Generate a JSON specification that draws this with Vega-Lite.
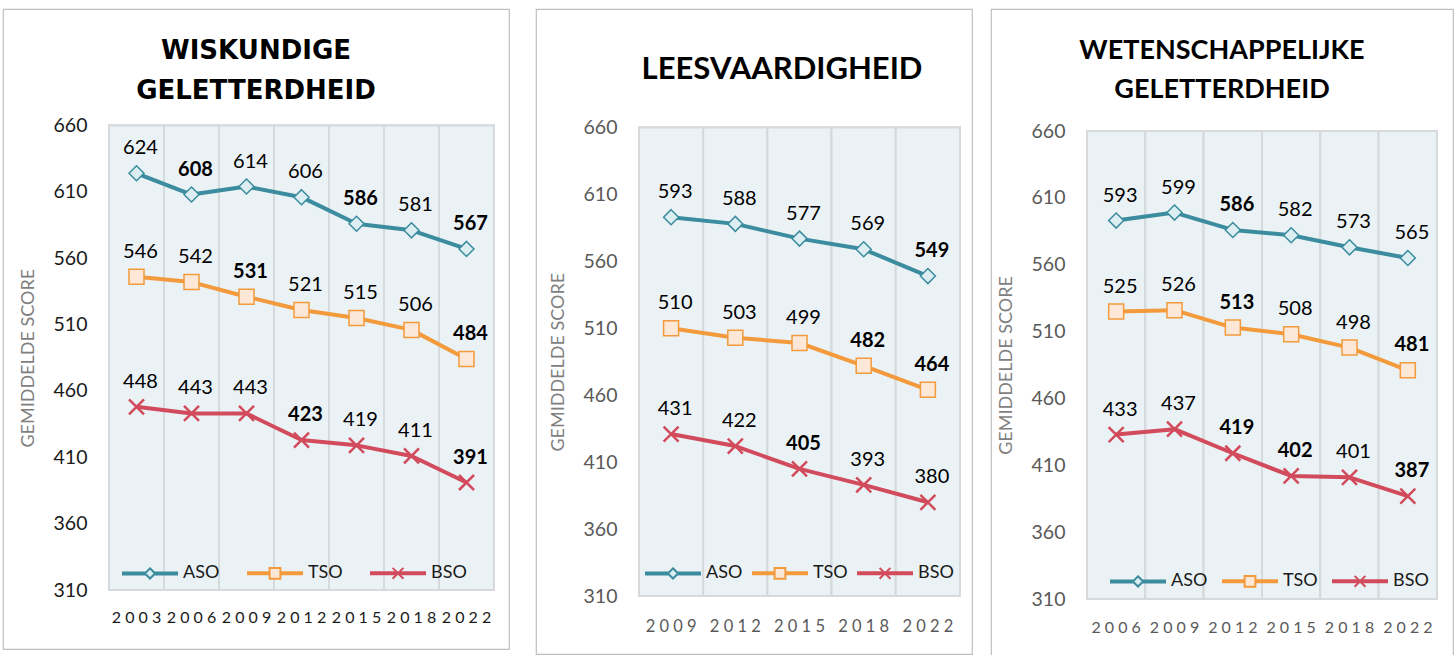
{
  "$schema": "https://vega.github.io/schema/vega-lite/v6.json",
  "padding": {"left": 2, "top": 8, "right": 0, "bottom": 0},
  "background": "white",
  "config": {
    "font": "Lato",
    "view": {"stroke": "#BFBFBF", "strokeWidth": 1.2},
    "concat": {"spacing": 25}
  },
  "datasets": {
    "wisk": [
      {"year": "2003", "series": "ASO", "score": 624, "sig": false},
      {"year": "2003", "series": "TSO", "score": 546, "sig": false},
      {"year": "2003", "series": "BSO", "score": 448, "sig": false},
      {"year": "2006", "series": "ASO", "score": 608, "sig": true},
      {"year": "2006", "series": "TSO", "score": 542, "sig": false},
      {"year": "2006", "series": "BSO", "score": 443, "sig": false},
      {"year": "2009", "series": "ASO", "score": 614, "sig": false},
      {"year": "2009", "series": "TSO", "score": 531, "sig": true},
      {"year": "2009", "series": "BSO", "score": 443, "sig": false},
      {"year": "2012", "series": "ASO", "score": 606, "sig": false},
      {"year": "2012", "series": "TSO", "score": 521, "sig": false},
      {"year": "2012", "series": "BSO", "score": 423, "sig": true},
      {"year": "2015", "series": "ASO", "score": 586, "sig": true},
      {"year": "2015", "series": "TSO", "score": 515, "sig": false},
      {"year": "2015", "series": "BSO", "score": 419, "sig": false},
      {"year": "2018", "series": "ASO", "score": 581, "sig": false},
      {"year": "2018", "series": "TSO", "score": 506, "sig": false},
      {"year": "2018", "series": "BSO", "score": 411, "sig": false},
      {"year": "2022", "series": "ASO", "score": 567, "sig": true},
      {"year": "2022", "series": "TSO", "score": 484, "sig": true},
      {"year": "2022", "series": "BSO", "score": 391, "sig": true}
    ],
    "lees": [
      {"year": "2009", "series": "ASO", "score": 593, "sig": false},
      {"year": "2009", "series": "TSO", "score": 510, "sig": false},
      {"year": "2009", "series": "BSO", "score": 431, "sig": false},
      {"year": "2012", "series": "ASO", "score": 588, "sig": false},
      {"year": "2012", "series": "TSO", "score": 503, "sig": false},
      {"year": "2012", "series": "BSO", "score": 422, "sig": false},
      {"year": "2015", "series": "ASO", "score": 577, "sig": false},
      {"year": "2015", "series": "TSO", "score": 499, "sig": false},
      {"year": "2015", "series": "BSO", "score": 405, "sig": true},
      {"year": "2018", "series": "ASO", "score": 569, "sig": false},
      {"year": "2018", "series": "TSO", "score": 482, "sig": true},
      {"year": "2018", "series": "BSO", "score": 393, "sig": false},
      {"year": "2022", "series": "ASO", "score": 549, "sig": true},
      {"year": "2022", "series": "TSO", "score": 464, "sig": true},
      {"year": "2022", "series": "BSO", "score": 380, "sig": false}
    ],
    "wet": [
      {"year": "2006", "series": "ASO", "score": 593, "sig": false},
      {"year": "2006", "series": "TSO", "score": 525, "sig": false},
      {"year": "2006", "series": "BSO", "score": 433, "sig": false},
      {"year": "2009", "series": "ASO", "score": 599, "sig": false},
      {"year": "2009", "series": "TSO", "score": 526, "sig": false},
      {"year": "2009", "series": "BSO", "score": 437, "sig": false},
      {"year": "2012", "series": "ASO", "score": 586, "sig": true},
      {"year": "2012", "series": "TSO", "score": 513, "sig": true},
      {"year": "2012", "series": "BSO", "score": 419, "sig": true},
      {"year": "2015", "series": "ASO", "score": 582, "sig": false},
      {"year": "2015", "series": "TSO", "score": 508, "sig": false},
      {"year": "2015", "series": "BSO", "score": 402, "sig": true},
      {"year": "2018", "series": "ASO", "score": 573, "sig": false},
      {"year": "2018", "series": "TSO", "score": 498, "sig": false},
      {"year": "2018", "series": "BSO", "score": 401, "sig": false},
      {"year": "2022", "series": "ASO", "score": 565, "sig": false},
      {"year": "2022", "series": "TSO", "score": 481, "sig": true},
      {"year": "2022", "series": "BSO", "score": 387, "sig": true}
    ]
  },
  "resolve": {"scale": {"color": "independent", "stroke": "independent", "shape": "independent"}},
  "hconcat": [
    {
      "width": 506, "height": 640,
      "data": {"name": "wisk"},
      "title": {"text": ["WISKUNDIGE", "GELETTERDHEID"], "font": "DejaVu Sans", "fontSize": 26, "fontWeight": "bold", "color": "#000000", "anchor": "middle", "frame": "group", "offset": -95, "lineHeight": 40},
      "encoding": {
        "x": {"field": "year", "type": "ordinal", "scale": {"range": [106, 491], "paddingInner": 0, "paddingOuter": 0},
          "axis": {"title": null, "orient": "bottom", "offset": -59, "labelAngle": 0, "labelExpr": "join(split(datum.label, ''), ' ')", "labelFont": "Lato", "labelFontSize": 16, "labelColor": "#1a1a1a", "labelPadding": 19, "ticks": false, "domain": false, "grid": false}},
        "y": {"field": "score", "type": "quantitative", "scale": {"domain": [310, 660], "range": [581, 116.5], "nice": false, "zero": false},
          "axis": {"title": "GEMIDDELDE SCORE", "orient": "left", "offset": -106, "values": [310, 360, 410, 460, 510, 560, 610, 660], "ticks": false, "domain": false, "grid": false, "labelFont": "Lato", "labelFontSize": 19.5, "labelColor": "#1a1a1a", "labelPadding": 22, "titleFont": "Lato", "titleFontSize": 18, "titleFontWeight": "normal", "titleColor": "#7f7f7f", "titlePadding": 16}}
      },
      "layer": [
        {"mark": {"type": "rect", "fill": "#EBF2F5", "stroke": "#D6DADC", "strokeWidth": 2},
         "encoding": {"y": {"datum": 660, "type": "quantitative",
           "axis": {"title": "GEMIDDELDE SCORE", "orient": "left", "offset": -106, "values": [310, 360, 410, 460, 510, 560, 610, 660], "ticks": false, "domain": false, "grid": false, "labelFont": "Lato", "labelFontSize": 19.5, "labelColor": "#1a1a1a", "labelPadding": 22, "titleFont": "Lato", "titleFontSize": 18, "titleFontWeight": "normal", "titleColor": "#7f7f7f", "titlePadding": 16}},
           "y2": {"datum": 310}}},
        {"mark": {"type": "line", "strokeWidth": 4, "strokeJoin": "round"},
         "encoding": {"stroke": {"field": "series", "type": "nominal", "sort": ["ASO", "TSO", "BSO"], "scale": {"range": ["#3A8C9E", "#F29A3C", "#D24B5C"]}, "legend": null}}},
        {"mark": {"type": "point", "filled": false, "opacity": 1, "size": 225},
         "encoding": {
           "stroke": {"field": "series", "type": "nominal", "sort": ["ASO", "TSO", "BSO"], "scale": {"range": ["#3A8C9E", "#F29A3C", "#D24B5C"]}, "legend": null},
           "strokeWidth": {"condition": {"test": "datum.series === 'BSO'", "value": 2.5}, "value": 1.5},
           "fill": {"condition": [{"test": "datum.series === 'ASO'", "value": "#DDEEF2"}, {"test": "datum.series === 'TSO'", "value": "#FDE7D6"}], "value": "transparent"},
           "shape": {"condition": [{"test": "datum.series === 'ASO'", "value": "M0,-1L1,0L0,1L-1,0Z"}, {"test": "datum.series === 'TSO'", "value": "square"}], "value": "M-1,-1L1,1M-1,1L1,-1"}
         }},
        {"transform": [{"filter": "false"}],
         "mark": {"type": "point", "filled": false, "opacity": 1},
         "encoding": {
           "color": {"field": "series", "type": "nominal", "scale": {"domain": ["ASO", "TSO", "BSO"], "range": ["#3A8C9E", "#F29A3C", "#D24B5C"]},
             "legend": {"orient": "none", "legendX": 119, "legendY": 536, "direction": "horizontal", "title": null, "symbolSize": 2916, "symbolStrokeWidth": 2, "symbolOpacity": 1, "labelFont": "Lato", "labelFontSize": 18, "labelColor": "#1a1a1a", "labelOffset": 5, "columnPadding": 24, "padding": 0,
               "encoding": {"symbols": {"fill": {"value": {"expr": "datum.value === 'ASO' ? '#DDEEF2' : datum.value === 'TSO' ? '#FDE7D6' : 'transparent'"}}}}}},
           "shape": {"field": "series", "type": "nominal", "scale": {"domain": ["ASO", "TSO", "BSO"], "range": ["M-1,-0.037L-0.19,-0.037L-0.19,0.037L-1,0.037ZM0.19,-0.037L1,-0.037L1,0.037L0.19,0.037ZM0,-0.19L0.19,0L0,0.19L-0.19,0Z", "M-1,-0.037L-0.2,-0.037L-0.2,0.037L-1,0.037ZM0.2,-0.037L1,-0.037L1,0.037L0.2,0.037ZM-0.2,-0.2L0.2,-0.2L0.2,0.2L-0.2,0.2Z", "M-1,-0.037L1,-0.037L1,0.037L-1,0.037ZM-0.2,-0.2L0.2,0.2M-0.2,0.2L0.2,-0.2"]},
             "legend": {"orient": "none", "legendX": 119, "legendY": 536, "direction": "horizontal", "title": null, "symbolSize": 2916, "symbolStrokeWidth": 2, "symbolOpacity": 1, "labelFont": "Lato", "labelFontSize": 18, "labelColor": "#1a1a1a", "labelOffset": 5, "columnPadding": 24, "padding": 0,
               "encoding": {"symbols": {"fill": {"value": {"expr": "datum.value === 'ASO' ? '#DDEEF2' : datum.value === 'TSO' ? '#FDE7D6' : 'transparent'"}}}}}}
         }},
        {"transform": [{"filter": "!datum.sig"}],
         "mark": {"type": "text", "font": "Lato", "fontSize": 20, "fontWeight": "normal", "color": "#000000", "dx": 4, "dy": -25},
         "encoding": {"text": {"field": "score", "type": "quantitative"}}},
        {"transform": [{"filter": "datum.sig"}],
         "mark": {"type": "text", "font": "Lato", "fontSize": 20, "fontWeight": "bold", "color": "#000000", "dx": 4, "dy": -25},
         "encoding": {"text": {"field": "score", "type": "quantitative"}}}
      ]
    },
    {
      "spacing": 17,
      "resolve": {"scale": {"color": "independent", "stroke": "independent", "shape": "independent"}},
      "hconcat": [
        {
          "width": 436, "height": 645,
          "data": {"name": "lees"},
          "title": {"text": "LEESVAARDIGHEID", "font": "Lato", "fontSize": 31, "fontWeight": "bold", "color": "#000000", "anchor": "middle", "frame": "group", "offset": -77, "dx": 28},
          "encoding": {
            "x": {"field": "year", "type": "ordinal", "scale": {"range": [103, 424], "paddingInner": 0, "paddingOuter": 0},
              "axis": {"title": null, "orient": "bottom", "offset": -58, "labelAngle": 0, "labelExpr": "join(split(datum.label, ''), ' ')", "labelFont": "Lato", "labelFontSize": 16.5, "labelColor": "#595959", "labelPadding": 22, "ticks": false, "domain": false, "grid": false}},
            "y": {"field": "score", "type": "quantitative", "scale": {"domain": [310, 660], "range": [587, 118.5], "nice": false, "zero": false},
              "axis": {"title": "GEMIDDELDE SCORE", "orient": "left", "offset": -103, "values": [310, 360, 410, 460, 510, 560, 610, 660], "ticks": false, "domain": false, "grid": false, "labelFont": "Lato", "labelFontSize": 19.5, "labelColor": "#595959", "labelPadding": 22, "titleFont": "Lato", "titleFontSize": 18, "titleFontWeight": "normal", "titleColor": "#7f7f7f", "titlePadding": 16}}
          },
          "layer": [
            {"mark": {"type": "rect", "fill": "#EBF2F5", "stroke": "#D6DADC", "strokeWidth": 2},
             "encoding": {"y": {"datum": 660, "type": "quantitative",
               "axis": {"title": "GEMIDDELDE SCORE", "orient": "left", "offset": -103, "values": [310, 360, 410, 460, 510, 560, 610, 660], "ticks": false, "domain": false, "grid": false, "labelFont": "Lato", "labelFontSize": 19.5, "labelColor": "#595959", "labelPadding": 22, "titleFont": "Lato", "titleFontSize": 18, "titleFontWeight": "normal", "titleColor": "#7f7f7f", "titlePadding": 16}},
               "y2": {"datum": 310}}},
            {"mark": {"type": "line", "strokeWidth": 4, "strokeJoin": "round"},
             "encoding": {"stroke": {"field": "series", "type": "nominal", "sort": ["ASO", "TSO", "BSO"], "scale": {"range": ["#3A8C9E", "#F29A3C", "#D24B5C"]}, "legend": null}}},
            {"mark": {"type": "point", "filled": false, "opacity": 1, "size": 225},
             "encoding": {
               "stroke": {"field": "series", "type": "nominal", "sort": ["ASO", "TSO", "BSO"], "scale": {"range": ["#3A8C9E", "#F29A3C", "#D24B5C"]}, "legend": null},
               "strokeWidth": {"condition": {"test": "datum.series === 'BSO'", "value": 2.5}, "value": 1.5},
               "fill": {"condition": [{"test": "datum.series === 'ASO'", "value": "#DDEEF2"}, {"test": "datum.series === 'TSO'", "value": "#FDE7D6"}], "value": "transparent"},
               "shape": {"condition": [{"test": "datum.series === 'ASO'", "value": "M0,-1L1,0L0,1L-1,0Z"}, {"test": "datum.series === 'TSO'", "value": "square"}], "value": "M-1,-1L1,1M-1,1L1,-1"}
             }},
            {"transform": [{"filter": "false"}],
             "mark": {"type": "point", "filled": false, "opacity": 1},
             "encoding": {
               "color": {"field": "series", "type": "nominal", "scale": {"domain": ["ASO", "TSO", "BSO"], "range": ["#3A8C9E", "#F29A3C", "#D24B5C"]},
                 "legend": {"orient": "none", "legendX": 109, "legendY": 536, "direction": "horizontal", "title": null, "symbolSize": 2916, "symbolStrokeWidth": 2, "symbolOpacity": 1, "labelFont": "Lato", "labelFontSize": 18, "labelColor": "#1a1a1a", "labelOffset": 5, "columnPadding": 6, "padding": 0,
                   "encoding": {"symbols": {"fill": {"value": {"expr": "datum.value === 'ASO' ? '#DDEEF2' : datum.value === 'TSO' ? '#FDE7D6' : 'transparent'"}}}}}},
               "shape": {"field": "series", "type": "nominal", "scale": {"domain": ["ASO", "TSO", "BSO"], "range": ["M-1,-0.037L-0.19,-0.037L-0.19,0.037L-1,0.037ZM0.19,-0.037L1,-0.037L1,0.037L0.19,0.037ZM0,-0.19L0.19,0L0,0.19L-0.19,0Z", "M-1,-0.037L-0.2,-0.037L-0.2,0.037L-1,0.037ZM0.2,-0.037L1,-0.037L1,0.037L0.2,0.037ZM-0.2,-0.2L0.2,-0.2L0.2,0.2L-0.2,0.2Z", "M-1,-0.037L1,-0.037L1,0.037L-1,0.037ZM-0.2,-0.2L0.2,0.2M-0.2,0.2L0.2,-0.2"]},
                 "legend": {"orient": "none", "legendX": 109, "legendY": 536, "direction": "horizontal", "title": null, "symbolSize": 2916, "symbolStrokeWidth": 2, "symbolOpacity": 1, "labelFont": "Lato", "labelFontSize": 18, "labelColor": "#1a1a1a", "labelOffset": 5, "columnPadding": 6, "padding": 0,
                   "encoding": {"symbols": {"fill": {"value": {"expr": "datum.value === 'ASO' ? '#DDEEF2' : datum.value === 'TSO' ? '#FDE7D6' : 'transparent'"}}}}}}
             }},
            {"transform": [{"filter": "!datum.sig"}],
             "mark": {"type": "text", "font": "Lato", "fontSize": 20, "fontWeight": "normal", "color": "#000000", "dx": 4, "dy": -25},
             "encoding": {"text": {"field": "score", "type": "quantitative"}}},
            {"transform": [{"filter": "datum.sig"}],
             "mark": {"type": "text", "font": "Lato", "fontSize": 20, "fontWeight": "bold", "color": "#000000", "dx": 4, "dy": -25},
             "encoding": {"text": {"field": "score", "type": "quantitative"}}}
          ]
        },
        {
          "width": 462, "height": 650,
          "data": {"name": "wet"},
          "title": {"text": ["WETENSCHAPPELIJKE", "GELETTERDHEID"], "font": "Lato", "fontSize": 27, "fontWeight": "bold", "color": "#000000", "anchor": "middle", "frame": "group", "offset": -95, "lineHeight": 39},
          "encoding": {
            "x": {"field": "year", "type": "ordinal", "scale": {"range": [96, 446], "paddingInner": 0, "paddingOuter": 0},
              "axis": {"title": null, "orient": "bottom", "offset": -60, "labelAngle": 0, "labelExpr": "join(split(datum.label, ''), ' ')", "labelFont": "Lato", "labelFontSize": 16, "labelColor": "#595959", "labelPadding": 20, "ticks": false, "domain": false, "grid": false}},
            "y": {"field": "score", "type": "quantitative", "scale": {"domain": [310, 660], "range": [590, 122], "nice": false, "zero": false},
              "axis": {"title": "GEMIDDELDE SCORE", "orient": "left", "offset": -96, "values": [310, 360, 410, 460, 510, 560, 610, 660], "ticks": false, "domain": false, "grid": false, "labelFont": "Lato", "labelFontSize": 19.5, "labelColor": "#595959", "labelPadding": 22, "titleFont": "Lato", "titleFontSize": 18, "titleFontWeight": "normal", "titleColor": "#7f7f7f", "titlePadding": 16}}
          },
          "layer": [
            {"mark": {"type": "rect", "fill": "#EBF2F5", "stroke": "#D6DADC", "strokeWidth": 2},
             "encoding": {"y": {"datum": 660, "type": "quantitative",
               "axis": {"title": "GEMIDDELDE SCORE", "orient": "left", "offset": -96, "values": [310, 360, 410, 460, 510, 560, 610, 660], "ticks": false, "domain": false, "grid": false, "labelFont": "Lato", "labelFontSize": 19.5, "labelColor": "#595959", "labelPadding": 22, "titleFont": "Lato", "titleFontSize": 18, "titleFontWeight": "normal", "titleColor": "#7f7f7f", "titlePadding": 16}},
               "y2": {"datum": 310}}},
            {"mark": {"type": "line", "strokeWidth": 4, "strokeJoin": "round"},
             "encoding": {"stroke": {"field": "series", "type": "nominal", "sort": ["ASO", "TSO", "BSO"], "scale": {"range": ["#3A8C9E", "#F29A3C", "#D24B5C"]}, "legend": null}}},
            {"mark": {"type": "point", "filled": false, "opacity": 1, "size": 225},
             "encoding": {
               "stroke": {"field": "series", "type": "nominal", "sort": ["ASO", "TSO", "BSO"], "scale": {"range": ["#3A8C9E", "#F29A3C", "#D24B5C"]}, "legend": null},
               "strokeWidth": {"condition": {"test": "datum.series === 'BSO'", "value": 2.5}, "value": 1.5},
               "fill": {"condition": [{"test": "datum.series === 'ASO'", "value": "#DDEEF2"}, {"test": "datum.series === 'TSO'", "value": "#FDE7D6"}], "value": "transparent"},
               "shape": {"condition": [{"test": "datum.series === 'ASO'", "value": "M0,-1L1,0L0,1L-1,0Z"}, {"test": "datum.series === 'TSO'", "value": "square"}], "value": "M-1,-1L1,1M-1,1L1,-1"}
             }},
            {"transform": [{"filter": "false"}],
             "mark": {"type": "point", "filled": false, "opacity": 1},
             "encoding": {
               "color": {"field": "series", "type": "nominal", "scale": {"domain": ["ASO", "TSO", "BSO"], "range": ["#3A8C9E", "#F29A3C", "#D24B5C"]},
                 "legend": {"orient": "none", "legendX": 119, "legendY": 544, "direction": "horizontal", "title": null, "symbolSize": 2916, "symbolStrokeWidth": 2, "symbolOpacity": 1, "labelFont": "Lato", "labelFontSize": 18, "labelColor": "#1a1a1a", "labelOffset": 5, "columnPadding": 11, "padding": 0,
                   "encoding": {"symbols": {"fill": {"value": {"expr": "datum.value === 'ASO' ? '#DDEEF2' : datum.value === 'TSO' ? '#FDE7D6' : 'transparent'"}}}}}},
               "shape": {"field": "series", "type": "nominal", "scale": {"domain": ["ASO", "TSO", "BSO"], "range": ["M-1,-0.037L-0.19,-0.037L-0.19,0.037L-1,0.037ZM0.19,-0.037L1,-0.037L1,0.037L0.19,0.037ZM0,-0.19L0.19,0L0,0.19L-0.19,0Z", "M-1,-0.037L-0.2,-0.037L-0.2,0.037L-1,0.037ZM0.2,-0.037L1,-0.037L1,0.037L0.2,0.037ZM-0.2,-0.2L0.2,-0.2L0.2,0.2L-0.2,0.2Z", "M-1,-0.037L1,-0.037L1,0.037L-1,0.037ZM-0.2,-0.2L0.2,0.2M-0.2,0.2L0.2,-0.2"]},
                 "legend": {"orient": "none", "legendX": 119, "legendY": 544, "direction": "horizontal", "title": null, "symbolSize": 2916, "symbolStrokeWidth": 2, "symbolOpacity": 1, "labelFont": "Lato", "labelFontSize": 18, "labelColor": "#1a1a1a", "labelOffset": 5, "columnPadding": 11, "padding": 0,
                   "encoding": {"symbols": {"fill": {"value": {"expr": "datum.value === 'ASO' ? '#DDEEF2' : datum.value === 'TSO' ? '#FDE7D6' : 'transparent'"}}}}}}
             }},
            {"transform": [{"filter": "!datum.sig"}],
             "mark": {"type": "text", "font": "Lato", "fontSize": 20, "fontWeight": "normal", "color": "#000000", "dx": 4, "dy": -25},
             "encoding": {"text": {"field": "score", "type": "quantitative"}}},
            {"transform": [{"filter": "datum.sig"}],
             "mark": {"type": "text", "font": "Lato", "fontSize": 20, "fontWeight": "bold", "color": "#000000", "dx": 4, "dy": -25},
             "encoding": {"text": {"field": "score", "type": "quantitative"}}}
          ]
        }
      ]
    }
  ]
}
